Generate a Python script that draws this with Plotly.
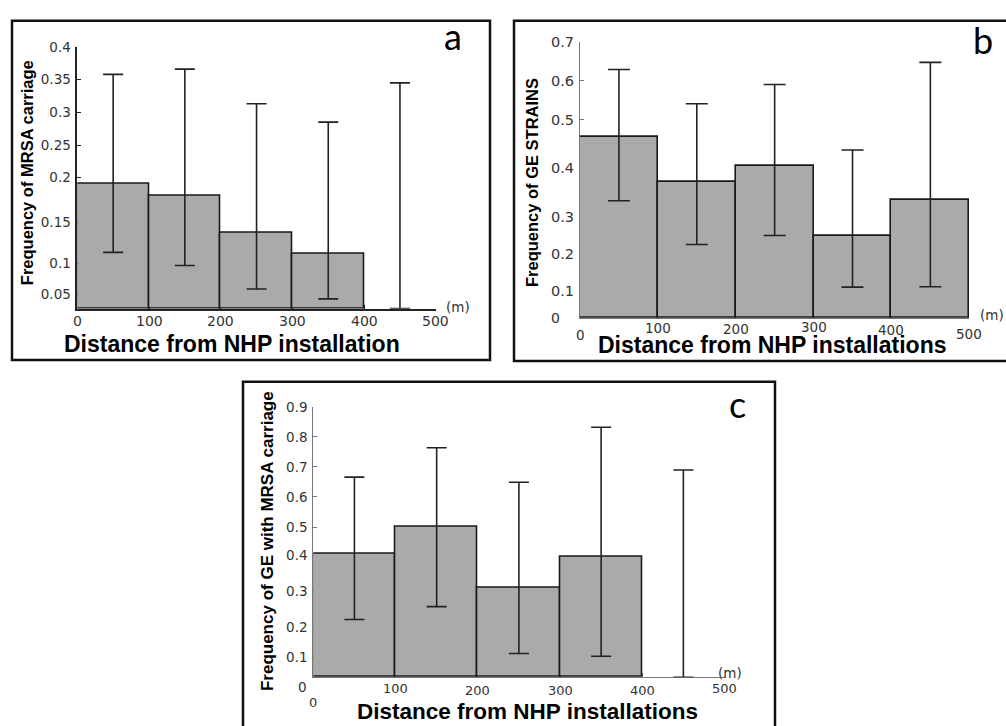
import plotly.graph_objects as go

# ---------------- data ----------------
bin_centers = [50, 150, 250, 350, 450]
x_tick_vals = [0, 100, 200, 300, 400, 500]
x_tick_labels = ["0", "100", "200", "300", "400", "500"]

# panel a : Frequency of MRSA carriage
a_freq = [0.190, 0.173, 0.116, 0.084, 0.0]
a_upper = [0.358, 0.366, 0.313, 0.285, 0.345]
a_lower = [0.086, 0.066, 0.030, 0.015, 0.0]
a_ytick_labels = ["0.05", "0.1", "0.15", "0.2", "0.25", "0.3", "0.35", "0.4"]
a_ytick_vals = [0.022, 0.069, 0.132, 0.200, 0.250, 0.300, 0.350, 0.400]

# panel b : Frequency of GE strains
b_freq = [0.460, 0.344, 0.385, 0.209, 0.299]
b_upper = [0.630, 0.543, 0.592, 0.426, 0.648]
b_lower = [0.297, 0.186, 0.209, 0.078, 0.079]
b_ytick_labels = ["0.1", "0.2", "0.3", "0.4", "0.5", "0.6", "0.7"]
b_ytick_vals = [0.069, 0.163, 0.255, 0.381, 0.502, 0.602, 0.700]

# panel c : Frequency of GE with MRSA carriage
c_freq = [0.411, 0.500, 0.299, 0.400, 0.0]
c_upper = [0.666, 0.764, 0.649, 0.832, 0.690]
c_lower = [0.192, 0.235, 0.079, 0.070, 0.0]
c_ytick_labels = ["0.1", "0.2", "0.3", "0.4", "0.5", "0.6", "0.7", "0.8", "0.9"]
c_ytick_vals = [0.068, 0.165, 0.285, 0.406, 0.500, 0.600, 0.700, 0.800, 0.900]

# ---------------- layout helpers ----------------
W, H = 1006, 726


def px(x):
    return x / W


def py(y):
    return 1 - y / H


BAR_FILL = "#aaaaaa"
INK = "#1a1a1a"
TICK_COLOR = "#333333"

panels = [
    dict(freq=a_freq, up=a_upper, lo=a_lower, yv=a_ytick_vals, yl=a_ytick_labels,
         ymax=0.4, xd=(77.3, 435.8), yd=(39.3, 304.0), cap=10, tfs=13.5,
         axc="#222222", axw=1.5),
    dict(freq=b_freq, up=b_upper, lo=b_lower, yv=b_ytick_vals, yl=b_ytick_labels,
         ymax=0.7, xd=(580.0, 969.3), yd=(34.3, 313.3), cap=11, tfs=14.5,
         axc="#777777", axw=1.1),
    dict(freq=c_freq, up=c_upper, lo=c_lower, yv=c_ytick_vals, yl=c_ytick_labels,
         ymax=0.9, xd=(313.3, 724.5), yd=(403.3, 676.7), cap=10, tfs=13.5,
         axc="#777777", axw=1.1),
]

fig = go.Figure()
layout_axes = {}
for i, p in enumerate(panels):
    sfx = "" if i == 0 else str(i + 1)
    xa, ya = "x" + sfx, "y" + sfx
    fig.add_trace(go.Bar(
        x=bin_centers, y=p["freq"], width=100,
        xaxis=xa, yaxis=ya,
        marker=dict(color=BAR_FILL,
                    line=dict(color=INK, width=[1.6 if f > 0 else 0 for f in p["freq"]])),
        error_y=dict(type="data", symmetric=False,
                     array=[u - f for u, f in zip(p["up"], p["freq"])],
                     arrayminus=[f - l for f, l in zip(p["freq"], p["lo"])],
                     color="#222222", thickness=1.6, width=p["cap"]),
        showlegend=False, hoverinfo="skip",
    ))
    layout_axes["xaxis" + sfx] = dict(
        domain=[px(p["xd"][0]), px(p["xd"][1])], anchor=ya, range=[0, 500],
        showline=True, linecolor=p["axc"], linewidth=p["axw"], layer="below traces",
        ticks="inside", ticklen=4, tickcolor=p["axc"], tickwidth=1.1,
        tickvals=x_tick_vals, showticklabels=False,
        showgrid=False, zeroline=False, fixedrange=True,
    )
    layout_axes["yaxis" + sfx] = dict(
        domain=[py(p["yd"][1]), py(p["yd"][0])], anchor=xa, range=[0, p["ymax"]],
        showline=True, linecolor=p["axc"], linewidth=p["axw"], layer="below traces",
        ticks="inside", ticklen=4, tickcolor=p["axc"], tickwidth=1.1,
        tickvals=p["yv"], ticktext=p["yl"],
        tickfont=dict(family="DejaVu Sans", size=p["tfs"], color=TICK_COLOR),
        ticklabelstandoff=2,
        showgrid=False, zeroline=False, fixedrange=True,
    )

fig.update_layout(
    width=W, height=H, autosize=False,
    margin=dict(l=0, r=0, t=0, b=0, pad=0),
    paper_bgcolor="white", plot_bgcolor="white",
    bargap=0, barmode="overlay",
    **layout_axes,
)

# panel frames
for (x0, y0, x1, y1) in [(12, 13, 490, 356), (514, 13, 1012, 357), (243, 378, 775, 732)]:
    fig.add_shape(type="rect", xref="paper", yref="paper",
                  x0=px(x0), x1=px(x1), y0=py(y1), y1=py(y0),
                  line=dict(color="#111111", width=2.5), fillcolor="rgba(0,0,0,0)")

ann = []
tick_font = dict(family="DejaVu Sans", color=TICK_COLOR)

# x tick labels (pixel row per label as in the figure)
x_label_rows = [
    ("x", [316, 316, 316, 316, 316, 316], 14),
    ("x2", [331, 324, 325, 323, 326, 330], 13.5),
    ("x3", [702, 688, 690, 690, 690, 688], 13),
]
for xref, rows, fs in x_label_rows:
    for v, t, r in zip(x_tick_vals, x_tick_labels, rows):
        ann.append(dict(x=v, y=py(r), xref=xref, yref="paper", text=t, showarrow=False,
                        xanchor="center", yanchor="middle",
                        font=dict(size=fs, **tick_font)))

# separate "0" on y axes of b and c
ann.append(dict(x=px(555), y=py(313), xref="paper", yref="paper", text="0", showarrow=False,
                xanchor="center", yanchor="middle", font=dict(size=14, **tick_font)))
ann.append(dict(x=px(302), y=py(687), xref="paper", yref="paper", text="0", showarrow=False,
                xanchor="center", yanchor="middle", font=dict(size=13.5, **tick_font)))

# (m) units
for (x, y) in [(458, 302), (992, 310), (730, 672)]:
    ann.append(dict(x=px(x), y=py(y), xref="paper", yref="paper", text="(m)", showarrow=False,
                    xanchor="center", yanchor="middle", font=dict(size=13.5, **tick_font)))

# x titles
title_font = dict(family="Liberation Sans", color="#000000")
for (x, y, t, fs) in [(232, 340, "<b>Distance from NHP installation</b>", 23),
                      (772, 341, "<b>Distance from NHP installations</b>", 23),
                      (527, 711, "<b>Distance from NHP installations</b>", 22.5)]:
    ann.append(dict(x=px(x), y=py(y), xref="paper", yref="paper", text=t, showarrow=False,
                    xanchor="center", yanchor="middle", font=dict(size=fs, **title_font)))

# y titles
for (x, y, t, fs) in [(27, 167, "<b>Frequency of MRSA carriage</b>", 16.5),
                      (532, 177, "<b>Frequency of GE STRAINS</b>", 16.5),
                      (267, 539, "<b>Frequency of GE with MRSA carriage</b>", 17)]:
    ann.append(dict(x=px(x), y=py(y), xref="paper", yref="paper", text=t, showarrow=False,
                    textangle=-90, xanchor="center", yanchor="middle",
                    font=dict(size=fs, **title_font)))

# panel letters
for (x, y, t) in [(453, 28, "a"), (983, 32, "b"), (737, 400, "c")]:
    ann.append(dict(x=px(x), y=py(y), xref="paper", yref="paper", text=t, showarrow=False,
                    xanchor="center", yanchor="middle",
                    font=dict(family="Lato", size=36, color="#000000")))

fig.update_layout(annotations=ann)

pin = ("document.body.style.margin='0';document.body.style.overflow='hidden';"
       "var d=document.getElementById('{plot_id}');"
       "d.style.position='fixed';d.style.left='0px';d.style.top='0px';")
fig.write_html("out.html", post_script=pin, config={"displayModeBar": False})
